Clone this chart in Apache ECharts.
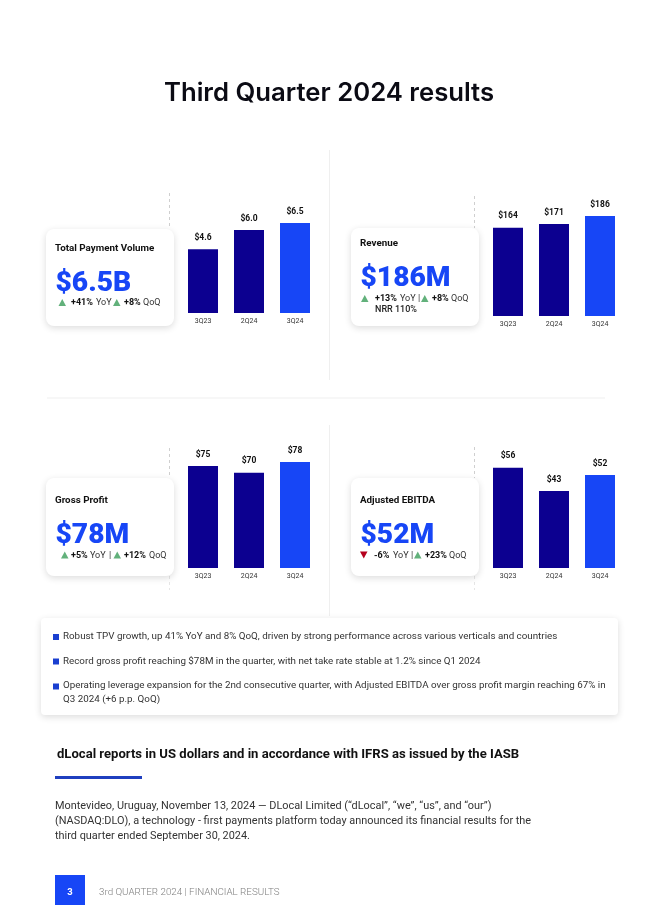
<!DOCTYPE html>
<html><head><meta charset="utf-8">
<script src="https://cdn.jsdelivr.net/npm/echarts@6/dist/echarts.min.js"></script>
<style>html,body{margin:0;padding:0;background:#fff}#c{width:653px;height:905px}</style>
</head><body><div id="c"></div>
<script>
const categories = ['3Q23','2Q24','3Q24'];
const tpvValues = [4.6,6.0,6.5];
const revenueValues = [164,171,186];
const grossProfitValues = [75,70,78];
const ebitdaValues = [56,43,52];
const bulletTexts = [
 'Robust TPV growth, up 41% YoY and 8% QoQ, driven by strong performance across various verticals and countries',
 'Record gross profit reaching $78M in the quarter, with net take rate stable at 1.2% since Q1 2024',
 'Operating leverage expansion for the 2nd consecutive quarter, with Adjusted EBITDA over gross profit margin reaching 67% in',
 'Q3 2024 (+6 p.p. QoQ)'];
const paragraphLines = [
 'Montevideo, Uruguay, November 13, 2024 — DLocal Limited (“dLocal”, “we”, “us”, and “our”)',
 '(NASDAQ:DLO), a technology - first payments platform today announced its financial results for the',
 'third quarter ended September 30, 2024.'];

const NAVY='#0c0090', BLUE='#1746f6', FONT='Roboto';
const panels=[
 {v:tpvValues,d:1,left:180,base:313,scale:13.85,max:7},
 {v:revenueValues,d:0,left:485,base:316,scale:0.5376,max:200},
 {v:grossProfitValues,d:0,left:180,base:568,scale:1.359,max:85},
 {v:ebitdaValues,d:0,left:485,base:568,scale:1.79,max:60}
];
const grid=[],xAxis=[],yAxis=[],series=[];
panels.forEach((p,i)=>{
 const h=p.max*p.scale;
 grid.push({left:p.left,width:138,top:p.base-h,height:h});
 xAxis.push({type:'category',gridIndex:i,data:categories,axisLine:{show:false},axisTick:{show:false},
  axisLabel:{fontFamily:FONT,fontSize:7,color:'#333',margin:4.5}});
 yAxis.push({type:'value',gridIndex:i,min:0,max:p.max,show:false,splitLine:{show:false}});
 series.push({type:'bar',xAxisIndex:i,yAxisIndex:i,barWidth:30,animation:false,
  data:p.v.map((val,k)=>({value:val,itemStyle:{color:k===2?BLUE:NAVY}})),
  label:{show:true,position:'top',distance:7,fontFamily:FONT,fontWeight:700,fontSize:8.5,color:'#111',
   formatter:o=>'$'+o.value.toFixed(p.d)}});
});

const g=[];
const line=(x1,y1,x2,y2,color,dash)=>g.push({type:'line',shape:{x1,y1,x2,y2},z:1,
  style:{stroke:color,lineWidth:1,lineDash:dash||null}});
const card=(x,y,w,h,r)=>g.push({type:'rect',shape:{x,y,width:w,height:h,r},z:2,
  style:{fill:'#fff',shadowBlur:7,shadowOffsetY:2,shadowColor:'rgba(0,0,0,0.14)'}});
const txt=(x,y,text,size,weight,color,family)=>g.push({type:'text',x,y:y+0.7,z:5,
  style:{text,fontFamily:family||FONT,fontSize:size,fontWeight:weight,fill:color,verticalAlign:'middle'}});
const up=(x,y)=>g.push({type:'polygon',z:5,shape:{points:[[x,y+3.5],[x+7.5,y+3.5],[x+3.75,y-3.5]]},style:{fill:'#62b17b'}});
const down=(x,y)=>g.push({type:'polygon',z:5,shape:{points:[[x,y-3.5],[x+7.5,y-3.5],[x+3.75,y+3.5]]},style:{fill:'#b5001e'}});

// dividers
line(329.5,150,329.5,380,'#efefef');
line(329.5,425,329.5,616,'#efefef');
line(47,398,605,398,'#efefef');
[[169,193,228],[474,196,228],[169,448,478],[474,447,478]]
 .forEach(a=>line(a[0]+.5,a[1],a[0]+.5,a[2],'#cfcfcf',[3,3]));
[[169,576,590],[474,576,590]].forEach(a=>line(a[0]+.5,a[1],a[0]+.5,a[2],'#e6e6e6',[3,3]));
// cards
card(46,229,128,97,8); card(351,228,128,98,8); card(46,478,128,98,8); card(351,478,128,98,8);
card(41,618,577,97,4);

// title
g.push({type:'text',x:329,y:93,z:5,style:{text:'Third Quarter 2024 results',fontFamily:'Inter',fontSize:25.7,fontWeight:600,fill:'#0b0b14',textAlign:'center',verticalAlign:'middle'}});

const BIG=28.2;
// card 1
txt(55,247.5,'Total Payment Volume',9.8,700,'#111');
txt(55.5,283.2,'$6.5B',BIG,900,BLUE);
up(58.5,302.5); txt(71,302.5,'+41%',9,700,'#111'); txt(96,302.5,'YoY',9,400,'#333');
up(113,302.5); txt(124,302.5,'+8%',9,700,'#111'); txt(143,302.5,'QoQ',9,400,'#333');
// card 2
txt(360,242.5,'Revenue',9.8,700,'#111');
txt(360.5,278.2,'$186M',BIG,900,BLUE);
up(361,298.5); txt(375,298.5,'+13%',9,700,'#111'); txt(400,298.5,'YoY |',9,400,'#333');
up(421,298.5); txt(432,298.5,'+8%',9,700,'#111'); txt(451,298.5,'QoQ',9,400,'#333');
txt(375,309,'NRR 110%',9,500,'#222');
// card 3
txt(55,499.5,'Gross Profit',9.8,700,'#111');
txt(55.5,535.2,'$78M',BIG,900,BLUE);
up(61,555); txt(71,555,'+5%',9,700,'#111'); txt(90,555,'YoY',9,400,'#333'); txt(109,555,'|',9,400,'#333');
up(113.5,555); txt(124,555,'+12%',9,700,'#111'); txt(149,555,'QoQ',9,400,'#333');
// card 4
txt(360,499.5,'Adjusted EBITDA',9.8,700,'#111');
txt(360.5,535.2,'$52M',BIG,900,BLUE);
down(360,555); txt(374,555,'-6%',9,700,'#111'); txt(393,555,'YoY |',9,400,'#333');
up(414,555); txt(425,555,'+23%',9,700,'#111'); txt(449,555,'QoQ',9,400,'#333');

// bullets
[[636.5,635.5,0],[661,660.5,1],[686,685,2]].forEach(b=>{
 g.push({type:'rect',z:5,shape:{x:53,y:b[0]-2.5,width:6,height:6},style:{fill:'#1a3fd0'}});
 txt(63,b[1],bulletTexts[b[2]],9.8,400,'#333');
});
txt(63,699,bulletTexts[3],9.8,400,'#333');

// heading
txt(57,754,'dLocal reports in US dollars and in accordance with IFRS as issued by the IASB',13.08,700,'#111');
g.push({type:'rect',z:5,shape:{x:55,y:776,width:87,height:3},style:{fill:'#1f3fbf'}});
paragraphLines.forEach((t,i)=>txt(55,805.7+15*i,t,10.9,400,'#333'));

// footer
g.push({type:'rect',z:5,shape:{x:55,y:875,width:30,height:30},style:{fill:BLUE}});
g.push({type:'text',x:70,y:892.5,z:6,style:{text:'3',fontFamily:FONT,fontSize:9.5,fontWeight:700,fill:'#fff',textAlign:'center',verticalAlign:'middle'}});
txt(99,892,'3rd QUARTER 2024 | FINANCIAL RESULTS',9.8,300,'#808080');

echarts.init(document.getElementById('c')).setOption({
 backgroundColor:'#fff',animation:false,grid,xAxis,yAxis,series,graphic:{elements:g}
});
</script></body></html>
